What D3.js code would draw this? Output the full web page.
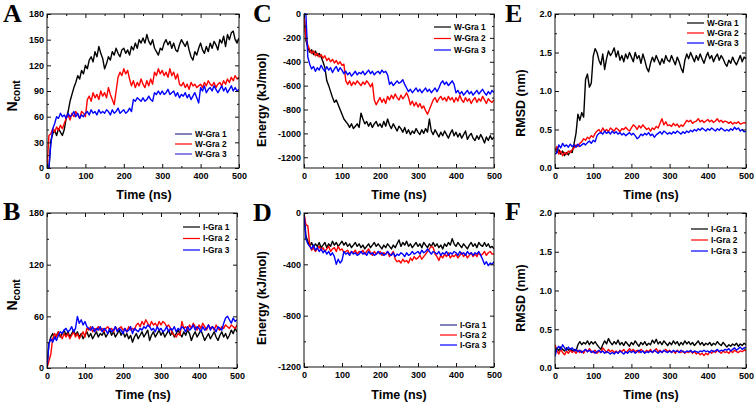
<!DOCTYPE html>
<html><head><meta charset="utf-8">
<script src="https://cdn.jsdelivr.net/npm/d3@7"></script>
<style>body{margin:0;background:#fff} svg{display:block} text{font-family:Arial,"Liberation Sans",sans-serif;font-weight:bold;fill:#000}</style>
</head><body><svg id="c" width="756" height="403"></svg>
<script>
// time axis (ns), sampled every 5 ns
const time = d3.range(0, 501, 5);

// Panel A: Ncont, W-Gra
const aW1 = [0,0,32,40,44,38,46,42,38,45, 58,66,78,86,94,100,108,104,114,110, 120,116,126,130,124,136,130,142,134,128,
 116,122,130,126,136,132,140,134,130,138, 140,134,138,132,142,138,146,140,150,146, 152,146,156,148,144,150,140,136,132,140,
 138,146,150,144,148,140,146,138,136,144, 150,146,142,148,138,130,126,136,132,140, 146,138,134,142,136,146,140,148,144,138,
 150,146,154,142,156,150,158,160,150,146, 152];
const aW2 = [0,38,40,46,42,48,44,50,46,52, 58,62,56,64,60,66,62,58,66,64, 60,80,84,78,88,82,86,80,90,84,
 88,82,94,86,80,74,90,106,112,108, 116,110,114,104,96,102,94,100,96,104, 98,94,102,96,104,98,112,108,116,110,
 114,108,112,106,116,108,112,104,110,98, 96,100,94,98,92,100,96,98,94,96, 98,94,100,96,102,98,96,100,94,98,
 100,96,102,98,104,100,106,102,108,104, 106];
const aW3 = [0,0,28,46,52,60,58,64,60,62, 58,64,60,62,66,60,64,58,62,60, 64,66,62,68,64,66,62,68,64,66,
 64,68,66,62,68,64,66,70,64,66, 68,64,66,70,66,80,78,82,80,78, 82,78,80,84,80,78,88,86,90,86,
 90,86,88,92,86,88,90,84,88,82, 86,84,88,82,86,80,84,88,82,76, 94,90,96,88,92,94,90,96,92,88,
 92,96,90,94,88,92,96,90,94,90, 92];

// Panel B: Ncont, I-Gra
const bI1 = [0,28,36,40,34,38,42,36,40,44, 38,42,36,40,44,38,42,36,40,34, 38,42,36,40,34,38,42,36,40,38,
 42,36,40,44,38,42,36,40,44,38, 42,36,40,34,38,30,36,40,34,38, 42,36,40,44,32,38,42,36,40,44,
 38,42,36,40,44,38,42,36,40,44, 40,36,42,38,44,40,32,38,42,36, 40,44,38,32,36,40,34,38,42,36,
 32,38,42,36,40,34,38,44,40,46, 42];
const bI2 = [0,8,16,34,40,36,42,38,34,40, 36,40,34,38,42,36,40,34,38,42, 36,46,44,48,42,46,44,48,44,46,
 42,46,48,44,46,42,48,44,46,48, 44,46,42,48,44,46,44,50,52,48, 54,50,56,52,48,54,50,52,48,54,
 50,54,52,48,50,46,40,38,36,40, 38,54,46,48,44,50,46,52,48,44, 50,46,52,48,44,50,46,48,44,50,
 46,44,48,46,50,48,46,50,48,46, 50];
const bI3 = [0,28,34,30,36,32,38,42,40,44, 46,42,44,48,42,46,60,52,56,50, 54,48,46,44,48,42,46,44,48,42,
 46,44,40,46,42,44,48,42,46,44, 40,46,42,44,48,40,46,44,42,46, 44,48,46,50,48,44,46,42,48,44,
 46,42,44,48,42,46,44,48,42,46, 44,48,46,42,48,44,46,50,44,48, 46,42,48,44,46,50,44,48,46,42,
 48,46,44,52,58,60,56,52,58,54, 56];

// Panel C: Energy (kJ/mol), W-Gra
const cW1 = [0,-220,-280,-320,-300,-340,-310,-350,-330,-360, -400,-450,-560,-600,-650,-700,-740,-720,-760,-800,
 -840,-880,-900,-920,-950,-920,-960,-940,-920,-950, -830,-880,-920,-900,-940,-910,-950,-920,-900,-940,
 -920,-950,-900,-940,-880,-930,-960,-920,-950,-980, -940,-960,-990,-950,-1000,-970,-1010,-980,-1000,-960,
 -990,-1010,-970,-1000,-960,-990,-880,-980,-1010,-970, -1000,-1030,-990,-1020,-980,-1010,-1040,-1000,-970,-1020,
 -990,-1030,-1000,-1040,-1010,-980,-1050,-1020,-1000,-1040, -1060,-1020,-1050,-1010,-1040,-1080,-1030,-1060,-1020,-1050, -1030];
const cW2 = [0,-200,-260,-300,-330,-310,-350,-330,-360,-340, -370,-350,-390,-370,-400,-380,-410,-390,-420,-400,
 -430,-420,-560,-590,-560,-600,-570,-590,-560,-580, -600,-570,-590,-560,-580,-610,-580,-720,-760,-730,
 -700,-740,-710,-750,-690,-720,-680,-710,-670,-700, -720,-680,-710,-690,-660,-700,-760,-730,-770,-740,
 -780,-750,-790,-770,-810,-840,-800,-760,-720,-700, -740,-710,-690,-720,-700,-730,-690,-720,-700,-740,
 -700,-730,-680,-720,-740,-700,-730,-710,-750,-720, -700,-740,-710,-730,-690,-720,-750,-710,-730,-740, -720];
const cW3 = [0,0,-360,-420,-460,-440,-480,-450,-470,-430, -460,-480,-440,-470,-450,-490,-460,-440,-480,-450,
 -470,-500,-480,-510,-490,-520,-500,-480,-510,-490, -500,-480,-510,-490,-470,-500,-480,-510,-490,-480,
 -500,-470,-490,-480,-510,-590,-570,-600,-580,-560, -580,-570,-550,-590,-620,-650,-630,-660,-640,-620,
 -650,-630,-660,-640,-620,-650,-630,-660,-640,-620, -650,-620,-580,-560,-590,-570,-600,-580,-560,-590,
 -660,-640,-670,-650,-680,-660,-640,-670,-650,-680, -660,-640,-670,-650,-630,-660,-680,-650,-670,-640, -660];

// Panel D: Energy (kJ/mol), I-Gra
const dI1 = [0,-180,-220,-260,-230,-270,-240,-260,-230,-270, -250,-230,-270,-240,-260,-220,-250,-230,-260,-240,
 -220,-250,-230,-260,-240,-270,-250,-230,-260,-240, -270,-250,-280,-260,-240,-270,-250,-230,-260,-240,
 -260,-280,-250,-270,-240,-260,-280,-250,-270,-240, -210,-260,-230,-250,-220,-260,-240,-270,-250,-230,
 -260,-240,-270,-230,-250,-270,-240,-260,-230,-260, -240,-270,-250,-280,-240,-260,-230,-250,-200,-240,
 -260,-230,-250,-270,-240,-260,-280,-250,-230,-260, -240,-270,-230,-250,-260,-230,-260,-240,-270,-260, -280];
const dI2 = [0,-90,-100,-250,-290,-270,-300,-280,-260,-290, -270,-300,-280,-260,-300,-280,-270,-300,-260,-290,
 -280,-310,-300,-290,-320,-300,-310,-290,-320,-300, -310,-290,-320,-300,-280,-310,-330,-300,-320,-310,
 -300,-330,-310,-320,-300,-340,-320,-300,-360,-380, -370,-390,-360,-380,-370,-390,-350,-370,-340,-360,
 -350,-330,-360,-340,-320,-300,-280,-260,-270,-320, -340,-370,-330,-350,-320,-340,-310,-350,-330,-340,
 -320,-350,-330,-310,-340,-320,-350,-330,-310,-340, -320,-340,-310,-330,-320,-300,-330,-310,-300,-320, -320];
const dI3 = [0,-200,-240,-260,-280,-250,-290,-270,-300,-280, -310,-290,-320,-300,-330,-310,-340,-400,-360,-390,
 -370,-300,-320,-310,-330,-300,-320,-310,-330,-320, -300,-320,-310,-330,-300,-320,-310,-330,-320,-300,
 -320,-310,-330,-320,-300,-320,-330,-310,-340,-320, -330,-310,-320,-340,-310,-330,-320,-300,-320,-310,
 -300,-320,-290,-310,-300,-280,-300,-320,-300,-310, -320,-300,-330,-310,-320,-300,-330,-310,-320,-300,
 -310,-330,-300,-320,-310,-330,-300,-320,-310,-330, -310,-320,-300,-330,-360,-400,-380,-410,-390,-400, -380];

// Panel E: RMSD (nm), W-Gra
const eW1 = [0.25,0.2,0.24,0.18,0.22,0.16,0.2,0.17,0.22,0.2, 0.32,0.45,0.7,0.62,0.72,0.66,1.15,1.22,1.05,1.1,
 1.45,1.55,1.5,1.4,1.34,1.48,1.28,1.42,1.52,1.46, 1.5,1.56,1.44,1.52,1.4,1.46,1.38,1.48,1.42,1.5,
 1.44,1.38,1.5,1.42,1.46,1.36,1.48,1.4,1.3,1.25, 1.36,1.44,1.38,1.46,1.4,1.34,1.42,1.36,1.46,1.4,
 1.38,1.46,1.4,1.34,1.44,1.38,1.3,1.24,1.4,1.48, 1.42,1.5,1.44,1.38,1.46,1.4,1.48,1.42,1.36,1.44,
 1.5,1.42,1.46,1.38,1.44,1.48,1.4,1.46,1.42,1.36, 1.32,1.4,1.36,1.44,1.38,1.34,1.4,1.46,1.38,1.44, 1.42];
const eW2 = [0.22,0.28,0.18,0.22,0.16,0.2,0.18,0.22,0.2,0.24, 0.26,0.3,0.28,0.32,0.34,0.38,0.36,0.4,0.38,0.42,
 0.4,0.45,0.48,0.5,0.46,0.52,0.48,0.5,0.47,0.52, 0.5,0.48,0.52,0.5,0.47,0.51,0.5,0.53,0.5,0.48,
 0.52,0.56,0.54,0.5,0.55,0.52,0.56,0.53,0.5,0.52, 0.48,0.52,0.5,0.54,0.52,0.58,0.64,0.56,0.6,0.55,
 0.56,0.54,0.58,0.55,0.57,0.53,0.56,0.54,0.58,0.62, 0.6,0.62,0.58,0.6,0.61,0.64,0.6,0.62,0.59,0.61,
 0.63,0.6,0.62,0.59,0.61,0.64,0.6,0.62,0.59,0.61, 0.6,0.58,0.6,0.57,0.59,0.58,0.6,0.57,0.58,0.59, 0.58];
const eW3 = [0.18,0.2,0.3,0.26,0.32,0.28,0.3,0.27,0.31,0.28, 0.3,0.27,0.31,0.28,0.3,0.32,0.3,0.33,0.35,0.32,
 0.36,0.34,0.42,0.45,0.46,0.44,0.48,0.45,0.47,0.44, 0.48,0.45,0.47,0.44,0.46,0.43,0.45,0.42,0.44,0.46,
 0.43,0.45,0.42,0.38,0.4,0.44,0.42,0.45,0.43,0.46, 0.42,0.44,0.4,0.43,0.45,0.47,0.44,0.48,0.46,0.44,
 0.46,0.44,0.47,0.45,0.48,0.46,0.44,0.47,0.45,0.48, 0.46,0.49,0.47,0.5,0.48,0.51,0.49,0.52,0.5,0.48,
 0.51,0.49,0.52,0.5,0.48,0.51,0.49,0.52,0.5,0.48, 0.5,0.48,0.51,0.49,0.53,0.5,0.52,0.48,0.5,0.47, 0.48];

// Panel F: RMSD (nm), I-Gra
const fI1 = [0.2,0.26,0.22,0.27,0.24,0.22,0.26,0.23,0.25,0.22, 0.24,0.22,0.3,0.34,0.3,0.33,0.31,0.35,0.3,0.34,
 0.31,0.34,0.3,0.27,0.24,0.3,0.35,0.31,0.38,0.33, 0.3,0.34,0.31,0.36,0.3,0.33,0.29,0.34,0.31,0.28,
 0.33,0.3,0.35,0.31,0.28,0.33,0.3,0.34,0.29,0.32, 0.3,0.36,0.32,0.37,0.31,0.34,0.3,0.35,0.32,0.29,
 0.33,0.3,0.35,0.31,0.34,0.29,0.33,0.3,0.35,0.31, 0.34,0.3,0.33,0.29,0.32,0.35,0.3,0.33,0.29,0.32,
 0.3,0.33,0.29,0.32,0.3,0.34,0.31,0.29,0.33,0.3, 0.27,0.3,0.28,0.31,0.29,0.32,0.28,0.31,0.29,0.32, 0.3];
const fI2 = [0.3,0.22,0.18,0.24,0.2,0.17,0.22,0.19,0.23,0.2, 0.22,0.19,0.23,0.2,0.22,0.19,0.24,0.21,0.25,0.22,
 0.2,0.23,0.19,0.22,0.2,0.26,0.23,0.2,0.24,0.21, 0.23,0.2,0.22,0.19,0.23,0.21,0.24,0.2,0.22,0.25,
 0.22,0.24,0.21,0.23,0.2,0.24,0.22,0.2,0.23,0.21, 0.24,0.2,0.22,0.25,0.21,0.23,0.2,0.22,0.24,0.21,
 0.23,0.2,0.22,0.19,0.23,0.21,0.2,0.22,0.19,0.21, 0.2,0.22,0.19,0.21,0.18,0.2,0.17,0.19,0.16,0.19,
 0.17,0.21,0.19,0.22,0.2,0.23,0.21,0.19,0.22,0.2, 0.21,0.19,0.22,0.2,0.23,0.21,0.2,0.22,0.21,0.23, 0.22];
const fI3 = [0.15,0.25,0.28,0.24,0.3,0.26,0.23,0.27,0.24,0.26, 0.22,0.24,0.21,0.23,0.2,0.22,0.24,0.21,0.23,0.2,
 0.22,0.19,0.21,0.23,0.2,0.22,0.19,0.21,0.2,0.18, 0.2,0.18,0.21,0.19,0.22,0.2,0.18,0.21,0.19,0.22,
 0.2,0.22,0.19,0.21,0.23,0.2,0.22,0.19,0.21,0.2, 0.22,0.2,0.23,0.21,0.19,0.22,0.2,0.23,0.21,0.2,
 0.22,0.2,0.23,0.21,0.22,0.2,0.23,0.21,0.2,0.22, 0.21,0.23,0.2,0.22,0.21,0.2,0.22,0.21,0.23,0.21,
 0.22,0.2,0.23,0.21,0.22,0.24,0.21,0.23,0.22,0.24, 0.23,0.25,0.22,0.24,0.26,0.23,0.25,0.27,0.24,0.26, 0.27];

const xTicks = [0,100,200,300,400,500];
const xMinor = [50,150,250,350,450];
const wNames = ["W-Gra 1","W-Gra 2","W-Gra 3"];
const iNames = ["I-Gra 1","I-Gra 2","I-Gra 3"];
const colors = ["#000000","#ff0000","#0000ff"];

const panels = [
 {letter:"A", lx:3, ly:22, box:[47,239,14,168], dom:[0,180], ticks:[0,30,60,90,120,150,180], minor:[15,45,75,105,135,165],
  fmt:d=>String(d), data:[aW1,aW2,aW3], names:wNames, leg:[175,134,10], legCol:["#2e2e8e","#ff0000","#3b30d8"],
  yt:"N", ysub:"cont", ytx:17, yty:96, xtx:144, xty:199},
 {letter:"C", lx:253, ly:22, box:[304,494,14,168], dom:[-1290,0], ticks:[0,-200,-400,-600,-800,-1000,-1200], minor:[-100,-300,-500,-700,-900,-1100],
  fmt:d=>String(d), data:[cW1,cW2,cW3], names:wNames, leg:[434,27,11.5], legCol:colors,
  yt:"Energy (kJ/mol)", ytx:266, yty:100, xtx:399, xty:199},
 {letter:"E", lx:505, ly:22, box:[555,746,14,168], dom:[0,2], ticks:[0,0.5,1,1.5,2], minor:[0.25,0.75,1.25,1.75],
  fmt:d3.format(".1f"), data:[eW1,eW2,eW3], names:wNames, leg:[687,23,10], legCol:colors,
  yt:"RMSD (nm)", ytx:525, yty:103, xtx:651, xty:199},
 {letter:"B", lx:3, ly:220, box:[47,237,213,368], dom:[0,180], ticks:[0,60,120,180], minor:[30,90,150],
  fmt:d=>String(d), data:[bI1,bI2,bI3], names:iNames, leg:[183,227,11.5], legCol:colors,
  yt:"N", ysub:"cont", ytx:17, yty:295, xtx:143, xty:399},
 {letter:"D", lx:253, ly:221, box:[304,494,213,367], dom:[-1200,0], ticks:[0,-400,-800,-1200], minor:[-200,-600,-1000],
  fmt:d=>String(d), data:[dI1,dI2,dI3], names:iNames, leg:[440,325,10], legCol:["#2e2e8e","#ff0000","#0000ff"],
  yt:"Energy (kJ/mol)", ytx:266, yty:298, xtx:399, xty:399},
 {letter:"F", lx:505, ly:220, box:[555,746,213,368], dom:[0,2], ticks:[0,0.5,1,1.5,2], minor:[0.25,0.75,1.25,1.75],
  fmt:d3.format(".1f"), data:[fI1,fI2,fI3], names:iNames, leg:[691,229,11], legCol:colors,
  yt:"RMSD (nm)", ytx:525, yty:298, xtx:651, xty:399}
];

const svg = d3.select("#c");
const defs = svg.append("defs");

panels.forEach((p,pi)=>{
  const [x0,x1,y0,y1] = p.box;
  const x = d3.scaleLinear().domain([0,500]).range([x0,x1]);
  const y = d3.scaleLinear().domain(p.dom).range([y1,y0]);
  const g = svg.append("g");

  defs.append("clipPath").attr("id","clip"+pi).append("rect")
    .attr("x",x0).attr("y",y0-1).attr("width",x1-x0).attr("height",y1-y0+2);

  // lines
  const line = d3.line().x((d,i)=>x(time[i])).y(d=>y(d));
  const lg = g.append("g").attr("clip-path",`url(#clip${pi})`);
  p.data.forEach((s,si)=>{
    lg.append("path").datum(s).attr("d",line).attr("fill","none")
      .attr("stroke",colors[si]).attr("stroke-width",1.4).attr("stroke-linejoin","round");
  });

  // axes
  const styleAxis = sel => { sel.select(".domain").remove(); sel.selectAll("line").attr("stroke","#111");
    sel.selectAll("text").attr("font-size",9).attr("font-weight","bold").attr("fill","#000")
      .attr("font-family","Arial, 'Liberation Sans', sans-serif"); };
  g.append("g").attr("transform",`translate(0,${y1})`)
    .call(d3.axisBottom(x).tickValues(xTicks).tickSize(-4).tickPadding(5).tickFormat(d3.format("d"))).call(styleAxis);
  g.append("g").attr("transform",`translate(0,${y1})`)
    .call(d3.axisBottom(x).tickValues(xMinor).tickSize(-2).tickFormat("")).call(styleAxis);
  g.append("g").attr("transform",`translate(0,${y0})`)
    .call(d3.axisTop(x).tickValues(xTicks).tickSize(-4).tickFormat("")).call(styleAxis);
  g.append("g").attr("transform",`translate(0,${y0})`)
    .call(d3.axisTop(x).tickValues(xMinor).tickSize(-2).tickFormat("")).call(styleAxis);
  g.append("g").attr("transform",`translate(${x0},0)`)
    .call(d3.axisLeft(y).tickValues(p.ticks).tickSize(-4).tickPadding(3).tickFormat(p.fmt)).call(styleAxis);
  g.append("g").attr("transform",`translate(${x0},0)`)
    .call(d3.axisLeft(y).tickValues(p.minor).tickSize(-2).tickFormat("")).call(styleAxis);
  g.append("g").attr("transform",`translate(${x1},0)`)
    .call(d3.axisRight(y).tickValues(p.ticks).tickSize(-4).tickFormat("")).call(styleAxis);
  g.append("g").attr("transform",`translate(${x1},0)`)
    .call(d3.axisRight(y).tickValues(p.minor).tickSize(-2).tickFormat("")).call(styleAxis);

  // frame
  g.append("rect").attr("x",x0).attr("y",y0).attr("width",x1-x0).attr("height",y1-y0)
    .attr("fill","none").attr("stroke","#111").attr("stroke-width",1);

  // legend
  const [lx,ly,ldy] = p.leg;
  p.names.forEach((n,i)=>{
    g.append("line").attr("x1",lx).attr("x2",lx+17).attr("y1",ly+i*ldy).attr("y2",ly+i*ldy)
      .attr("stroke",p.legCol[i]).attr("stroke-width",1.2);
    g.append("text").attr("x",lx+20).attr("y",ly+i*ldy).attr("dy","0.35em")
      .attr("font-size",8.3).text(n);
  });

  // panel letter
  svg.append("text").attr("x",p.lx).attr("y",p.ly)
    .style("font-family","'Liberation Serif','Times New Roman',serif")
    .style("font-weight","bold").attr("font-size",26).text(p.letter);

  // x title
  g.append("text").attr("x",p.xtx).attr("y",p.xty).attr("text-anchor","middle").attr("font-size",12.5).text("Time (ns)");

  // y title
  const yt = g.append("text").attr("transform",`translate(${p.ytx},${p.yty}) rotate(-90)`)
    .attr("text-anchor","middle").attr("font-size",12.5);
  if (p.ysub) {
    yt.append("tspan").attr("font-size",14).text(p.yt);
    yt.append("tspan").attr("font-size",10).attr("dy",3).text(p.ysub);
  } else yt.text(p.yt);
});
</script></body></html>
